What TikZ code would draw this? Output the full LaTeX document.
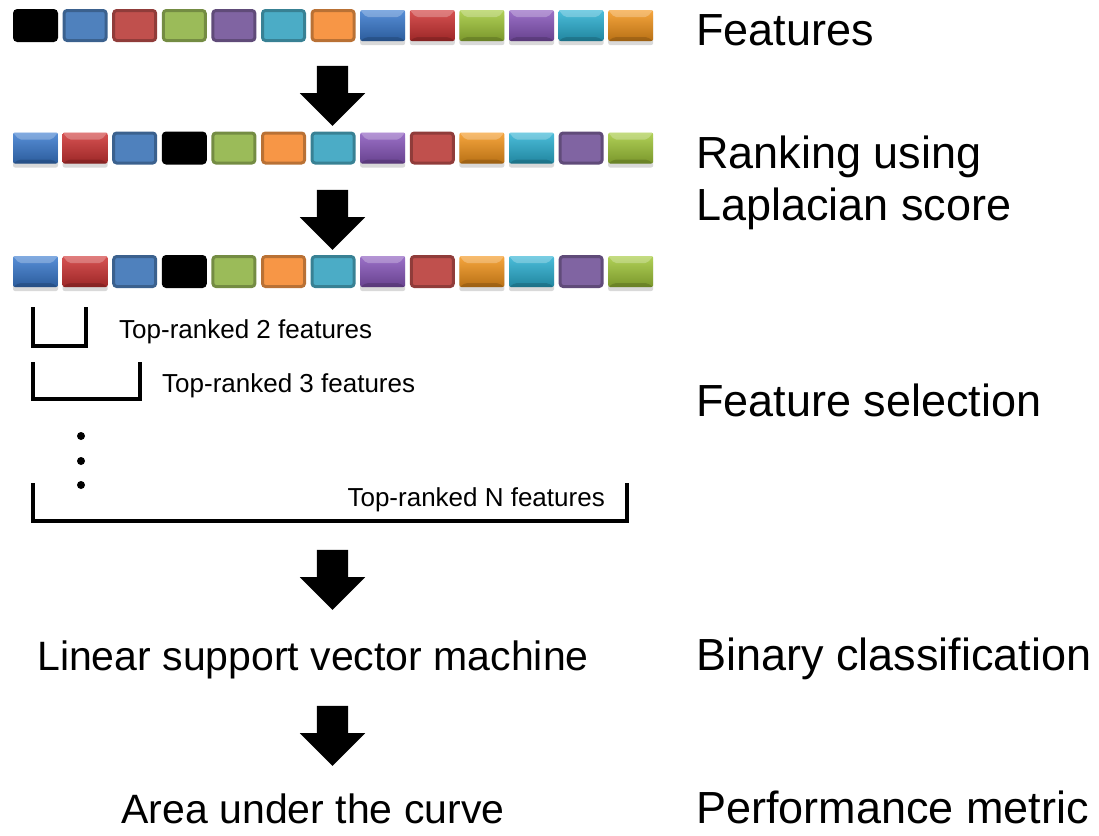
\documentclass[tikz,border=0pt]{standalone}
\usepackage{fontspec}
\setmainfont{Liberation Sans}
\usepackage{tikz}
\usetikzlibrary{shapes, arrows.meta, positioning, shadows, calc}

\definecolor{fblue}{HTML}{4F81BD}
\definecolor{fred}{HTML}{C0504D}
\definecolor{fgreen}{HTML}{9BBB59}
\definecolor{fpurple}{HTML}{8064A2}
\definecolor{fteal}{HTML}{4BACC6}
\definecolor{forange}{HTML}{F79646}
\definecolor{gblue}{HTML}{3A7BD0}
\definecolor{gred}{HTML}{D03434}
\definecolor{ggreen}{HTML}{A3C93A}
\definecolor{gpurple}{HTML}{8A58BE}
\definecolor{gteal}{HTML}{2CB2D4}
\definecolor{gorange}{HTML}{F5961C}

\begin{document}
\begin{tikzpicture}[x=1pt, y=-1pt,
        flatbox/.style={rectangle, fill=#1, draw=#1!75!black, line width=3pt, rounded corners=3pt, minimum width=42pt, minimum height=30pt, inner sep=0pt},
        glossbox/.style={rectangle, top color=#1!85!white, middle color=#1, bottom color=#1!75!black, rounded corners=2pt, minimum width=45pt, minimum height=31pt, inner sep=0pt, drop shadow={shadow xshift=0pt, shadow yshift=-4pt, opacity=0.3},
            path picture={\fill[white, opacity=0.25] (path picture bounding box.north west) -- (path picture bounding box.north east) -- ([xshift=-6pt, yshift=-7pt]path picture bounding box.north east) -- ([xshift=6pt, yshift=-7pt]path picture bounding box.north west) -- cycle;
                \fill[black, opacity=0.15] (path picture bounding box.south west) -- (path picture bounding box.south east) -- ([xshift=-6pt, yshift=4pt]path picture bounding box.south east) -- ([xshift=6pt, yshift=4pt]path picture bounding box.south west) -- cycle;}},
        downarrow/.style={single arrow, fill=black, rotate=-90, minimum height=60pt, inner sep=15.5pt, single arrow head extend=17pt},
        bracket/.style={line width=4pt, line join=miter},
        dot/.style={circle, fill=black, minimum size=8pt, inner sep=0pt},
        stagelbl/.style={font=\fontsize{45}{52}\selectfont, anchor=base west, inner sep=0pt},
        methodlbl/.style={font=\fontsize{41}{48}\selectfont, anchor=base, inner sep=0pt},
        toplbl/.style={font=\fontsize{26}{30}\selectfont, inner sep=0pt}
    ]
        \useasboundingbox (0,0) rectangle (1099,835);

        % Features
        \foreach \s/\c [count=\i] in {flatbox/black, flatbox/fblue, flatbox/fred, flatbox/fgreen, flatbox/fpurple, flatbox/fteal, flatbox/forange, glossbox/gblue, glossbox/gred, glossbox/ggreen, glossbox/gpurple, glossbox/gteal, glossbox/gorange}
            \node[\s=\c] (f\i) at ({35.5+49.6*(\i-1)}, 25.5) {};

        % Ranked
        \foreach \s/\c [count=\i] in {glossbox/gblue, glossbox/gred, flatbox/fblue, flatbox/black, flatbox/fgreen, flatbox/forange, flatbox/fteal, glossbox/gpurple, flatbox/fred, glossbox/gorange, glossbox/gteal, flatbox/fpurple, glossbox/ggreen}
        {
            \node[\s=\c] (r\i) at ({35.5+49.6*(\i-1)}, 148) {};
            \node[\s=\c] (s\i) at ({35.5+49.6*(\i-1)}, 271.5) {};
        }

        % Arrows
        \node[downarrow] (a1) at (332.5, 88) {};
        \node[downarrow] (a2) at (332.5, 212) {};
        \node[downarrow] (a3) at (332.5, 572) {};
        \node[downarrow] (a4) at (332.5, 728) {};

        % Selection
        \draw[bracket] (33,307) -- (33,346) -- (86,346) -- (86,307);
        \draw[bracket] (33,362) -- (33,399) -- (140,399) -- (140,362);
        \draw[bracket] (33,483) -- (33,521) -- (627,521) -- (627,483);
        \node[toplbl, anchor=base west] (t2) at (119, 338) {Top-ranked 2 features};
        \node[toplbl, anchor=base west] (t3) at (162, 392) {Top-ranked 3 features};
        \node[toplbl, anchor=base east] (tn) at (605, 506) {Top-ranked N features};
        \node[dot] (d1) at (81, 436) {};
        \node[dot] (d2) at (81, 461) {};
        \node[dot] (d3) at (81, 485) {};

        % Classifier and metric
        \node[methodlbl] (svm) at (313, 670) {Linear support vector machine};
        \node[methodlbl] (auc) at (313, 823) {Area under the curve};

        % Stage names
        \node[stagelbl] (n1) at (696, 45) {Features};
        \node[stagelbl] (n2) at (696, 168) {Ranking using};
        \node[stagelbl] (n3) at (696, 220) {Laplacian score};
        \node[stagelbl] (n4) at (696, 416) {Feature selection};
        \node[stagelbl] (n5) at (696, 670) {Binary classification};
        \node[stagelbl] (n6) at (696, 823) {Performance metric};
    \end{tikzpicture}
\end{document}
